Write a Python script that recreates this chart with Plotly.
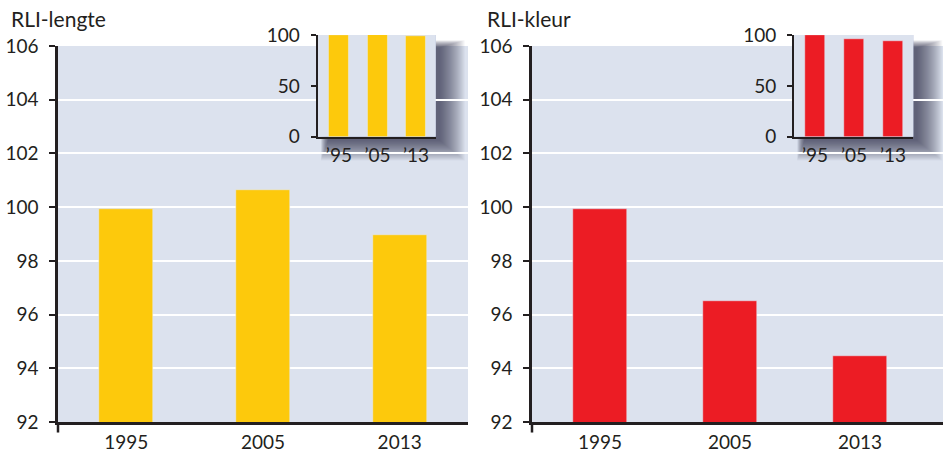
import plotly.graph_objects as go

# ---- data ----
years = ["1995", "2005", "2013"]
inset_labels = ["\u201995", "\u201905", "\u201913"]
rli_lengte = [99.93, 100.62, 98.96]
rli_kleur = [99.93, 96.5, 94.45]
y_ticks = [92, 94, 96, 98, 100, 102, 104, 106]
inset_ticks = [0, 50, 100]
titles = ["RLI-lengte", "RLI-kleur"]

YELLOW = "#fdc90c"
RED = "#ec1c24"
BG = "#dce2ee"
INSET_BG = "#a9b6d5"
DARK = "#231f20"
FONT = "Lato"

W, H = 950, 454
def px(x):
    return x / W
def py(y):
    return (H - y) / H

fig = go.Figure()
xpos = list(range(len(years)))

fig.add_trace(go.Bar(x=xpos, y=rli_lengte, marker_color=YELLOW, width=0.395,
                     xaxis="x", yaxis="y", showlegend=False))
fig.add_trace(go.Bar(x=xpos, y=rli_kleur, marker_color=RED, width=0.415,
                     xaxis="x2", yaxis="y2", showlegend=False))
fig.add_trace(go.Bar(x=xpos, y=rli_lengte, marker_color=YELLOW, width=0.52,
                     xaxis="x3", yaxis="y3", showlegend=False))
fig.add_trace(go.Bar(x=xpos, y=rli_kleur, marker_color=RED, width=0.52,
                     xaxis="x4", yaxis="y4", showlegend=False))

tickfont = dict(family=FONT, size=19, color=DARK)

main_y = dict(range=[92, 106], tickvals=y_ticks, showgrid=True, gridcolor="white",
              gridwidth=2, showline=True, linecolor=DARK, linewidth=2.5,
              ticks="outside", ticklen=6, tickwidth=1.5, tickcolor=DARK,
              tickfont=tickfont, zeroline=False, ticklabelstandoff=7,
              automargin=False, domain=[py(422), py(46)], fixedrange=True)
main_x = dict(tickvals=xpos, ticktext=years, showgrid=False, showline=True,
              linecolor=DARK, linewidth=2.5, ticks="", tickfont=tickfont,
              zeroline=False, ticklabelstandoff=1, automargin=False,
              fixedrange=True)

inset_y = dict(range=[0, 100], tickvals=inset_ticks, showgrid=False,
               showline=True, linecolor=DARK, linewidth=2, ticks="outside",
               ticklen=5, tickwidth=1.5, tickcolor=DARK, tickfont=tickfont,
               zeroline=False, ticklabelstandoff=7, automargin=False,
               domain=[py(136.7), py(35)], fixedrange=True)
inset_x = dict(tickvals=xpos, ticktext=inset_labels, showgrid=False,
               showline=True, linecolor=DARK, linewidth=2, ticks="",
               tickfont=tickfont, zeroline=False, ticklabelstandoff=0,
               automargin=False, fixedrange=True)

fig.update_layout(
    width=W, height=H, margin=dict(l=0, r=0, t=0, b=0, autoexpand=False),
    paper_bgcolor="white", plot_bgcolor=BG, bargap=0,
    xaxis=dict(main_x, domain=[px(58), px(468)], range=[-0.5, 2.5], anchor="y"),
    yaxis=dict(main_y, anchor="x"),
    xaxis2=dict(main_x, domain=[px(532), px(943)], range=[-0.523, 2.638], anchor="y2"),
    yaxis2=dict(main_y, anchor="x2"),
    xaxis3=dict(inset_x, domain=[px(317.7), px(435.7)], range=[-0.55, 2.51], anchor="y3"),
    yaxis3=dict(inset_y, anchor="x3"),
    xaxis4=dict(inset_x, domain=[px(794), px(913.3)], range=[-0.54, 2.52], anchor="y4"),
    yaxis4=dict(inset_y, anchor="x4"),
)

shapes = []
# y axis extension below x axis (main plots)
for ax in ["x", "x2"]:
    yr = "y" if ax == "x" else "y2"
    shapes.append(dict(type="line", xref=f"{ax} domain", yref=f"{yr} domain",
                       x0=0, x1=0, y0=0, y1=-0.028, line=dict(color=DARK, width=2.5),
                       layer="above"))

# inset soft shadow and background
for ax, yr, wpx in [("x3", "y3", 118.0), ("x4", "y4", 119.3)]:
    hpx = 101.7
    n = 26
    dx, dy = 3.0, 3.0
    for i in range(n):
        spread = (n - i) * 1.0
        shapes.append(dict(type="rect", xref=f"{ax} domain", yref=f"{yr} domain",
                           x0=(dx + 8 - spread * 0.3) / wpx, x1=1 + (dx + spread) / wpx,
                           y0=-(dy + spread * 0.8) / hpx, y1=1 - (dy + 10 - spread * 0.3) / hpx,
                           fillcolor="rgba(35,35,45,0.036)", line=dict(width=0),
                           layer="below"))
    shapes.append(dict(type="rect", xref=f"{ax} domain", yref=f"{yr} domain",
                       x0=0, x1=1, y0=0, y1=1, fillcolor=INSET_BG,
                       line=dict(width=0), layer="below"))

fig.update_layout(shapes=shapes)

fig.add_annotation(text=titles[0], x=px(9), y=py(19), xref="paper", yref="paper",
                   xanchor="left", yanchor="middle", showarrow=False,
                   font=dict(family=FONT, size=21, color=DARK))
fig.add_annotation(text=titles[1], x=px(485), y=py(19), xref="paper", yref="paper",
                   xanchor="left", yanchor="middle", showarrow=False,
                   font=dict(family=FONT, size=21, color=DARK))

fig.write_html("out.html", config={"displayModeBar": False},
               post_script="document.body.style.margin='0';document.body.style.overflow='hidden';")
